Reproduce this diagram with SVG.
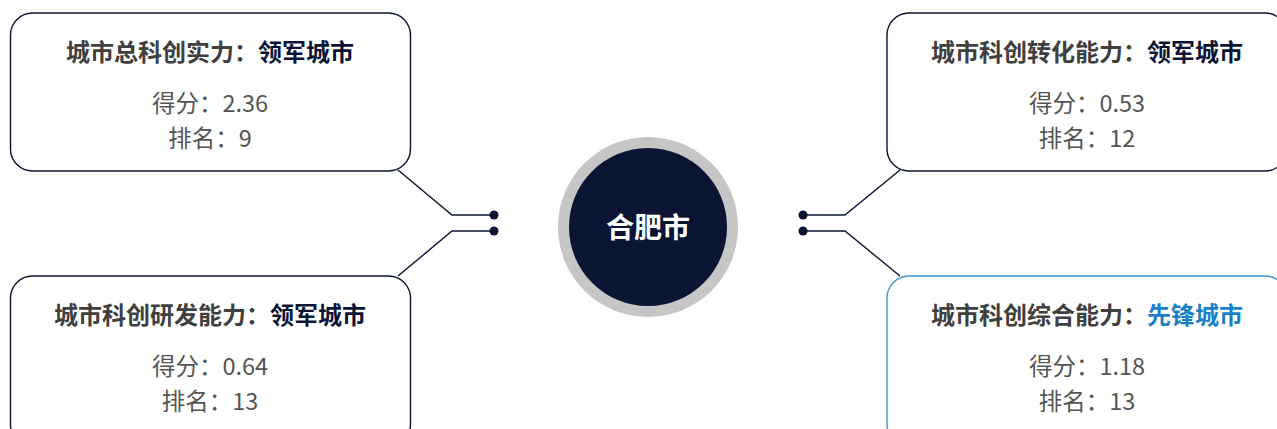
<svg xmlns="http://www.w3.org/2000/svg" width="1277" height="429" viewBox="0 0 1277 429">
<style>
.box{fill:#fff;stroke:#0b1533;stroke-width:1.4}
.boxb{fill:#fff;stroke:#3a96d6;stroke-width:1.4}
.t{font-family:"Noto Sans CJK SC","Noto Sans",sans-serif;text-anchor:middle;dominant-baseline:central}
.ti{font-size:24px;font-weight:bold;fill:#404040}
.v{fill:#0b1533}
.vb{fill:#1a7fc7}
.s{font-size:23.5px;fill:#555555}
.ln{fill:none;stroke:#0b1533;stroke-width:1.4}
.dot{fill:#0b1533}
</style>
<rect width="1277" height="429" fill="#fff"/>
<g id="connectors">
<polyline class="ln" points="398,170 452,215 494,215"/>
<polyline class="ln" points="398,276 452,231 494,231"/>
<polyline class="ln" points="900,170 845,215 803,215"/>
<polyline class="ln" points="900,276 845,231 803,231"/>
<circle class="dot" cx="494" cy="215" r="4.5"/>
<circle class="dot" cx="494" cy="231" r="4.5"/>
<circle class="dot" cx="803" cy="215" r="4.5"/>
<circle class="dot" cx="803" cy="231" r="4.5"/>
</g>
<g id="center">
<circle cx="648" cy="227" r="90" fill="#c6c6c6"/>
<circle cx="648" cy="227" r="79" fill="#0b1533"/>
<text class="t" x="648" y="226" font-size="28" font-weight="bold" fill="#fff">合肥市</text>
</g>
<g id="node-tl">
<rect class="box" x="10.5" y="13" width="400" height="158" rx="22"/>
<text class="t ti" x="210" y="50">城市总科创实力：<tspan class="v">领军城市</tspan></text>
<text class="t s" x="210" y="102">得分：2.36</text>
<text class="t s" x="210" y="137">排名：9</text>
</g>
<g id="node-bl">
<rect class="box" x="10.5" y="276" width="400" height="170" rx="22"/>
<text class="t ti" x="210" y="313">城市科创研发能力：<tspan class="v">领军城市</tspan></text>
<text class="t s" x="210" y="365">得分：0.64</text>
<text class="t s" x="210" y="400">排名：13</text>
</g>
<g id="node-tr">
<rect class="box" x="887" y="13" width="400" height="158" rx="22"/>
<text class="t ti" x="1087" y="50">城市科创转化能力：<tspan class="v">领军城市</tspan></text>
<text class="t s" x="1087" y="102">得分：0.53</text>
<text class="t s" x="1087" y="137">排名：12</text>
</g>
<g id="node-br">
<rect class="boxb" x="887" y="276" width="400" height="170" rx="22"/>
<text class="t ti" x="1087" y="313">城市科创综合能力：<tspan class="vb">先锋城市</tspan></text>
<text class="t s" x="1087" y="365">得分：1.18</text>
<text class="t s" x="1087" y="400">排名：13</text>
</g>
</svg>
